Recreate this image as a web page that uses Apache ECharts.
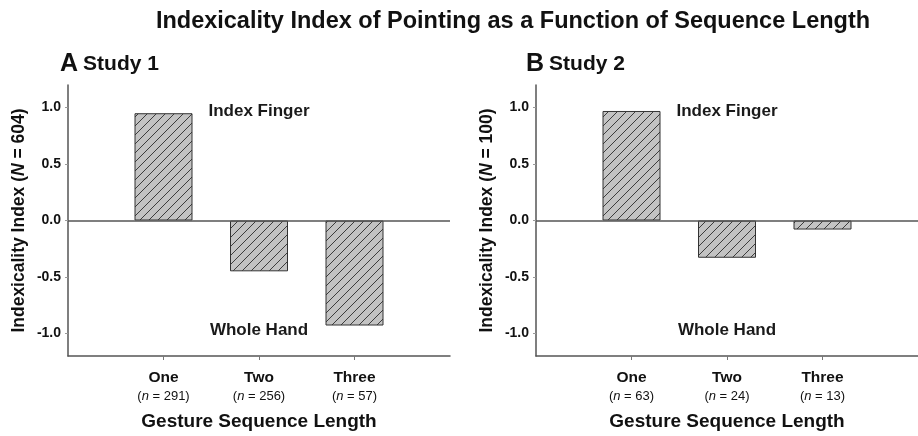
<!DOCTYPE html>
<html>
<head>
<meta charset="utf-8">
<script src="https://cdn.jsdelivr.net/npm/echarts@6/dist/echarts.min.js"></script>
<style>
html,body{margin:0;padding:0;background:#fff;}
#c{width:918px;height:436px;}
</style>
</head>
<body>
<div id="c"></div>
<script>
// ---- data ----
const categories = ['One', 'Two', 'Three'];
const studyANs = [291, 256, 57];
const studyBNs = [63, 24, 13];
const studyAValues = [0.95, -0.45, -0.93];
const studyBValues = [0.97, -0.33, -0.08];
const yTicks = [-1.0, -0.5, 0.0, 0.5, 1.0];
const panelTitles = ['Study 1', 'Study 2'];
const panelLetters = ['A', 'B'];
const totalNs = [604, 100];
const annotations = [['Index Finger', 0.97], ['Whole Hand', -0.97]];

const FONT = '"Liberation Sans", Arial, Helvetica, sans-serif';

// hatch pattern
function makeHatch() {
  const s = 9;
  const cv = document.createElement('canvas');
  cv.width = s; cv.height = s;
  const ctx = cv.getContext('2d');
  ctx.fillStyle = '#c3c3c3';
  ctx.fillRect(0, 0, s, s);
  ctx.strokeStyle = '#3c3c3c';
  ctx.lineWidth = 1;
  ctx.beginPath();
  ctx.moveTo(-1, s + 1); ctx.lineTo(s + 1, -1);
  ctx.moveTo(-1 - s, s + 1); ctx.lineTo(1, -1);
  ctx.moveTo(s - 1, s + 1); ctx.lineTo(2 * s + 1, -1);
  ctx.stroke();
  return cv;
}
const hatch = makeHatch();

const grids = [
  { left: 68, top: 85, width: 382, height: 274 },
  { left: 536, top: 85, width: 382, height: 274 }
];

function catLabel(ns) {
  return function (v) {
    const i = Math.round(v) - 1;
    if (i < 0 || i >= categories.length) return '';
    return '{c|' + categories[i] + '}\n{p|(}{i|n}{p| = ' + ns[i] + ')}';
  };
}

const xAxes = [], yAxes = [], series = [], titles = [];
[studyAValues, studyBValues].forEach(function (vals, k) {
  const ns = k === 0 ? studyANs : studyBNs;
  xAxes.push({
    type: 'value', gridIndex: k, min: 0, max: categories.length + 1,
    axisLine: { show: true, onZero: false, lineStyle: { color: '#555', width: 1.5 } },
    axisTick: { show: true, customValues: categories.map((c, i) => i + 1), length: 4, lineStyle: { color: '#777' } },
    splitLine: { show: false },
    axisLabel: {
      customValues: categories.map((c, i) => i + 1),
      formatter: catLabel(ns), margin: 13, lineHeight: 18,
      rich: {
        c: { fontFamily: FONT, fontWeight: 'bold', fontSize: 15.5, color: '#111', lineHeight: 18 },
        p: { fontFamily: FONT, fontSize: 13, color: '#111', lineHeight: 18 },
        i: { fontFamily: FONT, fontSize: 13, fontStyle: 'italic', color: '#111', lineHeight: 18 }
      }
    },
    name: 'Gesture Sequence Length', nameLocation: 'middle', nameGap: 56,
    nameTextStyle: { fontFamily: FONT, fontWeight: 'bold', fontSize: 19, color: '#111' }
  });
  yAxes.push({
    type: 'value', gridIndex: k, min: -1.2, max: 1.2,
    axisLine: { show: true, lineStyle: { color: '#555', width: 1.5 } },
    axisTick: { show: true, customValues: yTicks, length: 3, lineStyle: { color: '#999' } },
    splitLine: { show: false },
    axisLabel: {
      customValues: yTicks, formatter: v => v.toFixed(1), margin: 7,
      fontFamily: FONT, fontWeight: 'bold', fontSize: 14, color: '#111'
    },
    name: '{t|Indexicality Index (}{i|N}{t| = ' + totalNs[k] + ')}',
    nameLocation: 'middle', nameRotate: 90, nameGap: 40,
    nameTextStyle: {
      rich: {
        t: { fontFamily: FONT, fontWeight: 'bold', fontSize: 17.5, color: '#111' },
        i: { fontFamily: FONT, fontWeight: 'bold', fontStyle: 'italic', fontSize: 17.5, color: '#111' }
      }
    }
  });
  series.push({
    type: 'bar', xAxisIndex: k, yAxisIndex: k, barWidth: 58,
    data: vals.map((v, i) => [i + 1, v]),
    itemStyle: { color: { image: hatch, repeat: 'repeat' }, borderColor: '#333', borderWidth: 1 },
    silent: true,
    markLine: {
      silent: true, symbol: 'none', label: { show: false },
      lineStyle: { color: '#555', width: 1.5, type: 'solid' },
      data: [{ yAxis: 0 }]
    }
  });
  series.push({
    type: 'scatter', xAxisIndex: k, yAxisIndex: k, symbolSize: 0, silent: true,
    itemStyle: { opacity: 1 },
    data: annotations.map(a => [2, a[1], a[0]]),
    label: {
      show: true, position: 'inside', formatter: p => p.value[2],
      fontFamily: FONT, fontWeight: 'bold', fontSize: 17, color: '#1a1a1a'
    }
  });
  titles.push({
    text: '{l|' + panelLetters[k] + '} {s|' + panelTitles[k] + '}',
    left: k === 0 ? 55 : 521, top: 47,
    textStyle: {
      rich: {
        l: { fontFamily: FONT, fontWeight: 'bold', fontSize: 25, color: '#111' },
        s: { fontFamily: FONT, fontWeight: 'bold', fontSize: 21, color: '#111' }
      }
    }
  });
});

titles.unshift({
  text: 'Indexicality Index of Pointing as a Function of Sequence Length',
  left: 508, top: 5, textAlign: 'center',
  textStyle: { fontFamily: FONT, fontWeight: 'bold', fontSize: 23.5, color: '#111' }
});

const chart = echarts.init(document.getElementById('c'), null, { renderer: 'canvas' });
chart.setOption({
  animation: false,
  backgroundColor: '#fff',
  title: titles,
  grid: grids,
  xAxis: xAxes,
  yAxis: yAxes,
  series: series
});
</script>
</body>
</html>
